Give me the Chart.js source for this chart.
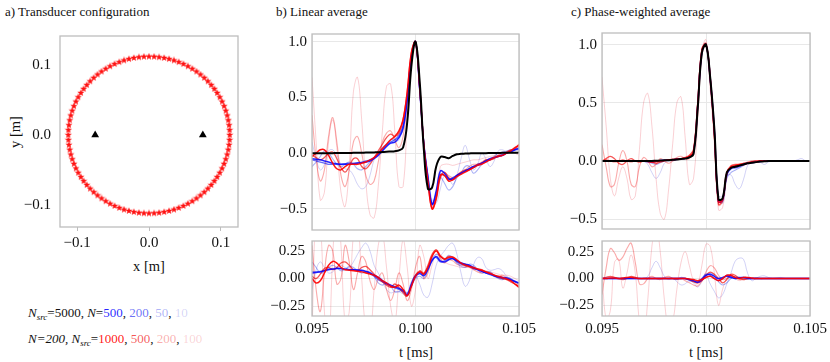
<!DOCTYPE html>
<html>
<head>
<meta charset="utf-8">
<title>Transducer configuration, linear and phase-weighted averages</title>
<script src="https://cdn.jsdelivr.net/npm/chart.js@4.4.1/dist/chart.umd.min.js"></script>
<style>
  html, body { margin: 0; padding: 0; overflow: hidden; background: #fff; }
  body { position: relative; width: 830px; height: 362px; font-family: 'Liberation Serif', 'DejaVu Serif', serif; color: #111; }
  canvas { position: absolute; }
  .lbl { position: absolute; white-space: nowrap; line-height: 1; }
  .title { font-size: 13px; transform: translateY(-50%); }
  .axis { font-size: 14.5px; transform: translate(-50%, -50%); }
  .legend { font-size: 13px; left: 28px; transform: translateY(-50%); }
  .legend sub { font-size: 9px; vertical-align: -3px; line-height: 0; }
</style>
</head>
<body>
<div class="lbl title" style="left:5px;top:11px">a) Transducer configuration</div>
<div class="lbl title" style="left:276px;top:11px">b) Linear average</div>
<div class="lbl title" style="left:571px;top:11px">c) Phase-weighted average</div>
<div class="lbl axis" style="left:15px;top:132px;transform:translate(-50%,-50%) rotate(-90deg)">y [m]</div>
<div class="lbl axis" style="left:149px;top:266px">x [m]</div>
<div class="lbl axis" style="left:416px;top:352px">t [ms]</div>
<div class="lbl axis" style="left:706px;top:352px">t [ms]</div>
<div class="lbl legend" id="legBlue" style="top:312px"></div>
<div class="lbl legend" id="legRed" style="top:338px"></div>

<canvas id="cfg" width="252" height="259" style="left:0;top:18px"></canvas>
<canvas id="linTop" width="300" height="224" style="left:255px;top:20px"></canvas>
<canvas id="linBot" width="300" height="119" style="left:255px;top:225px"></canvas>
<canvas id="pwTop" width="287" height="224" style="left:545px;top:19px"></canvas>
<canvas id="pwBot" width="287" height="120" style="left:545px;top:224px"></canvas>

<script>
// time axis (ms)
const timeMs = [
  0.0950, 0.0952, 0.0954, 0.0956, 0.0958, 0.0960, 0.0962, 0.0964, 0.0966, 0.0968,
  0.0970, 0.0972, 0.0974, 0.0976, 0.0978, 0.0980, 0.0982, 0.0984, 0.0986, 0.0988,
  0.0990, 0.0992, 0.0994, 0.0996, 0.0998, 0.1000, 0.1002, 0.1004, 0.1006, 0.1008,
  0.1010, 0.1012, 0.1014, 0.1016, 0.1018, 0.1020, 0.1022, 0.1024, 0.1026, 0.1028,
  0.1030, 0.1032, 0.1034, 0.1036, 0.1038, 0.1040, 0.1042, 0.1044, 0.1046, 0.1048,
  0.1050];

// panel a: source ring and the two receivers (m)
const sourceX = [
  0.1125, 0.1123, 0.1116, 0.1105, 0.1090, 0.1070, 0.1046, 0.1018, 0.0986, 0.0950,
  0.0910, 0.0867, 0.0820, 0.0770, 0.0717, 0.0661, 0.0603, 0.0542, 0.0479, 0.0414,
  0.0348, 0.0280, 0.0211, 0.0141, 0.0071, 0.0000, -0.0071, -0.0141, -0.0211, -0.0280,
  -0.0348, -0.0414, -0.0479, -0.0542, -0.0603, -0.0661, -0.0717, -0.0770, -0.0820, -0.0867,
  -0.0910, -0.0950, -0.0986, -0.1018, -0.1046, -0.1070, -0.1090, -0.1105, -0.1116, -0.1123,
  -0.1125, -0.1123, -0.1116, -0.1105, -0.1090, -0.1070, -0.1046, -0.1018, -0.0986, -0.0950,
  -0.0910, -0.0867, -0.0820, -0.0770, -0.0717, -0.0661, -0.0603, -0.0542, -0.0479, -0.0414,
  -0.0348, -0.0280, -0.0211, -0.0141, -0.0071, 0.0000, 0.0071, 0.0141, 0.0211, 0.0280,
  0.0348, 0.0414, 0.0479, 0.0542, 0.0603, 0.0661, 0.0717, 0.0770, 0.0820, 0.0867,
  0.0910, 0.0950, 0.0986, 0.1018, 0.1046, 0.1070, 0.1090, 0.1105, 0.1116, 0.1123];
const sourceY = [
  0.0000, 0.0071, 0.0141, 0.0211, 0.0280, 0.0348, 0.0414, 0.0479, 0.0542, 0.0603,
  0.0661, 0.0717, 0.0770, 0.0820, 0.0867, 0.0910, 0.0950, 0.0986, 0.1018, 0.1046,
  0.1070, 0.1090, 0.1105, 0.1116, 0.1123, 0.1125, 0.1123, 0.1116, 0.1105, 0.1090,
  0.1070, 0.1046, 0.1018, 0.0986, 0.0950, 0.0910, 0.0867, 0.0820, 0.0770, 0.0717,
  0.0661, 0.0603, 0.0542, 0.0479, 0.0414, 0.0348, 0.0280, 0.0211, 0.0141, 0.0071,
  0.0000, -0.0071, -0.0141, -0.0211, -0.0280, -0.0348, -0.0414, -0.0479, -0.0542, -0.0603,
  -0.0661, -0.0717, -0.0770, -0.0820, -0.0867, -0.0910, -0.0950, -0.0986, -0.1018, -0.1046,
  -0.1070, -0.1090, -0.1105, -0.1116, -0.1123, -0.1125, -0.1123, -0.1116, -0.1105, -0.1090,
  -0.1070, -0.1046, -0.1018, -0.0986, -0.0950, -0.0910, -0.0867, -0.0820, -0.0770, -0.0717,
  -0.0661, -0.0603, -0.0542, -0.0479, -0.0414, -0.0348, -0.0280, -0.0211, -0.0141, -0.0071];
const receiverX = [-0.075, 0.075];
const receiverY = [0, 0];

// tick labels
const posTicks = [-0.1, 0.0, 0.1];
const traceTicks = [-0.5, 0.0, 0.5, 1.0];
const diffTicks = [-0.25, 0.0, 0.25];
const timeTicks = [0.095, 0.100, 0.105];

// legend categories
const nLabels = ['500', '200', '50', '10'];
const nsrcLabels = ['1000', '500', '200', '100'];

// b) linear average, top
const linTopRef = [
  0.000, 0.000, 0.000, 0.000, 0.000, 0.000, 0.001, 0.001, 0.002, 0.002,
  0.003, 0.003, 0.004, 0.005, 0.006, 0.007, 0.008, 0.010, 0.012, 0.015,
  0.018, 0.025, 0.050, 0.280, 0.780, 1.000, 0.650, 0.040, -0.320, -0.310,
  -0.120, -0.035, -0.035, -0.045, -0.025, -0.010, -0.006, -0.004, -0.002, 0.000,
  0.000, 0.000, 0.000, 0.001, 0.002, 0.002, 0.003, 0.003, 0.004, 0.004,
  0.005];
const linTopN500 = [
  -0.05, -0.055, -0.06, -0.07, -0.08, -0.09, -0.095, -0.10, -0.10, -0.10,
  -0.095, -0.09, -0.085, -0.08, -0.07, -0.05, -0.02, 0.02, 0.06, 0.09,
  0.10, 0.14, 0.22, 0.48, 0.86, 1.00, 0.58, 0.08, -0.22, -0.46,
  -0.34, -0.16, -0.18, -0.23, -0.23, -0.20, -0.18, -0.16, -0.14, -0.12,
  -0.11, -0.09, -0.07, -0.05, -0.04, -0.03, -0.02, 0.00, 0.01, 0.03,
  0.04];
const linTopN200 = [
  -0.06, -0.07, -0.08, -0.09, -0.10, -0.10, -0.10, -0.10, -0.095, -0.09,
  -0.09, -0.085, -0.08, -0.07, -0.06, -0.04, -0.01, 0.03, 0.07, 0.10,
  0.12, 0.16, 0.25, 0.50, 0.87, 1.00, 0.58, 0.10, -0.20, -0.46,
  -0.36, -0.19, -0.20, -0.24, -0.22, -0.20, -0.18, -0.16, -0.14, -0.13,
  -0.10, -0.09, -0.07, -0.06, -0.04, -0.03, -0.01, 0.00, 0.02, 0.03,
  0.05];
const linTopN50 = [
  -0.12, -0.08, -0.03, 0.02, 0.00, -0.05, -0.10, -0.12, -0.10, -0.08,
  -0.10, -0.14, -0.15, -0.12, -0.08, -0.04, 0.00, 0.05, 0.08, 0.12,
  0.12, 0.14, 0.24, 0.50, 0.87, 1.00, 0.57, 0.10, -0.22, -0.45,
  -0.38, -0.22, -0.27, -0.33, -0.30, -0.22, -0.18, -0.12, -0.12, -0.18,
  -0.15, -0.10, -0.08, -0.06, -0.03, 0.00, 0.01, 0.02, 0.03, 0.03,
  0.03];
const linTopN10 = [
  0.10, -0.05, -0.15, -0.10, 0.02, 0.03, -0.02, -0.10, -0.14, -0.15,
  -0.20, -0.28, -0.32, -0.30, -0.20, -0.06, 0.00, 0.05, 0.08, 0.10,
  0.10, 0.12, 0.24, 0.50, 0.87, 1.00, 0.55, 0.08, -0.20, -0.42,
  -0.45, -0.32, -0.20, -0.22, -0.28, -0.20, -0.05, 0.07, -0.05, -0.15,
  -0.10, 0.00, -0.05, -0.12, -0.07, 0.02, 0.03, 0.01, 0.02, 0.02,
  0.03];
const linTopS1000 = [
  -0.03, 0.00, 0.03, 0.03, -0.02, -0.09, -0.14, -0.15, -0.12, -0.10,
  -0.10, -0.10, -0.09, -0.08, -0.06, -0.04, 0.00, 0.04, 0.08, 0.12,
  0.15, 0.20, 0.30, 0.55, 0.90, 1.00, 0.60, 0.08, -0.25, -0.50,
  -0.40, -0.20, -0.20, -0.25, -0.24, -0.21, -0.19, -0.17, -0.15, -0.13,
  -0.11, -0.10, -0.08, -0.06, -0.04, -0.03, -0.02, 0.00, 0.02, 0.05,
  0.07];
const linTopS500 = [
  -0.02, -0.04, -0.06, -0.04, 0.00, 0.01, -0.05, -0.13, -0.17, -0.12,
  -0.05, -0.05, -0.12, -0.14, -0.10, -0.04, 0.02, 0.08, 0.14, 0.17,
  0.15, 0.18, 0.30, 0.55, 0.90, 1.00, 0.60, 0.08, -0.25, -0.50,
  -0.42, -0.22, -0.17, -0.22, -0.24, -0.20, -0.17, -0.15, -0.15, -0.12,
  -0.10, -0.09, -0.06, -0.06, -0.05, -0.02, -0.02, 0.01, 0.03, 0.04,
  0.08];
const linTopS200 = [
  0.34, -0.05, -0.25, -0.15, 0.15, 0.32, 0.10, -0.20, -0.30, -0.15,
  0.10, 0.15, 0.00, -0.20, -0.28, -0.25, -0.08, 0.10, 0.18, 0.20,
  0.12, 0.05, 0.15, 0.45, 0.85, 1.00, 0.58, 0.07, -0.25, -0.48,
  -0.40, -0.22, -0.18, -0.20, -0.22, -0.20, -0.18, -0.15, -0.12, -0.10,
  -0.10, -0.08, -0.06, -0.05, -0.03, -0.02, -0.01, 0.00, 0.02, 0.04,
  0.06];
const linTopS100 = [
  0.68, 0.10, -0.42, -0.35, 0.10, 0.30, 0.05, -0.35, -0.48, -0.10,
  0.55, 0.68, 0.30, -0.25, -0.55, -0.58, -0.30, 0.20, 0.60, 0.62,
  0.20, -0.30, -0.30, 0.30, 0.85, 1.00, 0.55, 0.05, -0.25, -0.45,
  -0.35, -0.12, -0.10, -0.10, -0.11, -0.10, -0.09, -0.08, -0.07, -0.06,
  -0.06, -0.05, -0.04, -0.03, -0.02, 0.00, 0.00, 0.01, 0.02, 0.00,
  -0.02];

// b) linear average, bottom
const linBotN500 = [
  0.05, 0.055, 0.06, 0.07, 0.08, 0.085, 0.09, 0.09, 0.085, 0.08,
  0.08, 0.075, 0.075, 0.065, 0.05, 0.03, 0.01, -0.02, -0.045, -0.06,
  -0.075, -0.09, -0.11, -0.15, -0.06, 0.02, 0.046, 0.025, 0.08, 0.16,
  0.20, 0.16, 0.15, 0.17, 0.18, 0.16, 0.14, 0.13, 0.12, 0.10,
  0.08, 0.065, 0.05, 0.04, 0.025, 0.015, 0.01, 0.005, -0.01, -0.025,
  -0.04];
const linBotN200 = [
  0.06, 0.06, 0.065, 0.075, 0.085, 0.09, 0.095, 0.09, 0.085, 0.08,
  0.08, 0.08, 0.07, 0.06, 0.045, 0.02, -0.01, -0.03, -0.05, -0.07,
  -0.085, -0.10, -0.12, -0.14, -0.04, 0.03, 0.055, 0.04, 0.10, 0.17,
  0.19, 0.15, 0.16, 0.18, 0.18, 0.15, 0.13, 0.12, 0.11, 0.09,
  0.08, 0.07, 0.05, 0.035, 0.02, 0.01, 0.00, -0.005, -0.015, -0.03,
  -0.04];
const linBotN50 = [
  0.15, 0.10, 0.05, 0.06, 0.10, 0.12, 0.10, 0.07, 0.08, 0.11,
  0.10, 0.07, 0.05, 0.06, 0.06, 0.02, -0.04, -0.06, -0.04, -0.07,
  -0.12, -0.12, -0.10, -0.13, -0.07, 0.00, 0.02, 0.00, 0.08, 0.18,
  0.22, 0.20, 0.17, 0.21, 0.19, 0.14, 0.11, 0.10, 0.13, 0.12,
  0.08, 0.05, 0.06, 0.06, 0.03, 0.00, -0.01, 0.01, 0.00, -0.03,
  -0.05];
const linBotN10 = [
  -0.10, 0.08, 0.15, 0.10, 0.05, 0.06, 0.10, 0.12, 0.10, 0.10,
  0.15, 0.22, 0.28, 0.32, 0.25, 0.12, 0.05, -0.02, -0.10, -0.13,
  -0.12, -0.12, -0.14, -0.16, -0.08, 0.02, -0.05, -0.15, -0.17, -0.05,
  0.12, 0.20, 0.25, 0.30, 0.32, 0.22, 0.05, -0.07, -0.02, 0.12,
  0.19, 0.18, 0.10, 0.075, 0.08, 0.09, 0.07, 0.02, 0.00, -0.03,
  -0.04];
const linBotS1000 = [
  0.00, -0.04, -0.02, 0.05, 0.12, 0.155, 0.14, 0.10, 0.08, 0.075,
  0.07, 0.065, 0.06, 0.05, 0.04, 0.03, 0.01, -0.02, -0.04, -0.07,
  -0.08, -0.06, -0.10, -0.155, -0.07, 0.02, 0.06, 0.04, 0.10, 0.20,
  0.25, 0.20, 0.175, 0.19, 0.195, 0.17, 0.14, 0.12, 0.11, 0.10,
  0.085, 0.075, 0.06, 0.045, 0.03, 0.02, 0.01, -0.005, -0.02, -0.05,
  -0.08];
const linBotS500 = [
  0.02, 0.00, 0.04, 0.09, 0.10, 0.08, 0.10, 0.14, 0.15, 0.12,
  0.08, 0.07, 0.10, 0.11, 0.08, 0.04, 0.00, -0.03, -0.06, -0.08,
  -0.05, -0.08, -0.13, -0.16, -0.06, 0.03, 0.07, 0.05, 0.12, 0.22,
  0.26, 0.21, 0.18, 0.20, 0.19, 0.16, 0.14, 0.13, 0.11, 0.09,
  0.09, 0.08, 0.06, 0.05, 0.03, 0.01, 0.00, -0.01, -0.03, -0.05,
  -0.07];
const linBotS200 = [
  0.30, -0.10, -0.30, 0.05, 0.30, 0.25, -0.05, 0.00, 0.30, 0.15,
  -0.10, 0.05, 0.20, 0.15, -0.02, -0.10, 0.00, 0.05, -0.10, -0.20,
  -0.10, 0.05, -0.05, -0.20, -0.10, 0.10, 0.20, 0.00, 0.05, 0.20,
  0.26, 0.18, 0.14, 0.17, 0.16, 0.13, 0.12, 0.11, 0.10, 0.08,
  0.06, 0.05, 0.06, 0.05, 0.03, 0.02, 0.03, 0.01, -0.01, -0.03,
  -0.06];
const linBotS100 = [
  -0.50, 0.60, 0.50, -0.30, -0.60, 0.20, 0.70, 0.30, -0.40, -0.30,
  0.40, 0.50, 0.00, -0.45, -0.50, -0.10, 0.30, 0.40, 0.10, -0.25,
  -0.40, 0.00, 0.35, 0.10, -0.25, -0.10, 0.30, 0.20, 0.00, 0.12,
  0.22, 0.18, 0.15, 0.13, 0.12, 0.11, 0.10, 0.10, 0.10, 0.09,
  0.08, 0.07, 0.07, 0.06, 0.05, 0.04, 0.03, 0.03, 0.02, 0.00,
  -0.02];

// c) phase-weighted average, top
const pwTopRef = [
  0, 0, 0, 0, 0, 0, 0, 0, 0, 0,
  0, 0, 0, 0.002, 0.003, 0.005, 0.007, 0.010, 0.013, 0.017,
  0.020, 0.030, 0.060, 0.450, 0.930, 1.000, 0.720, 0.280, -0.330, -0.320,
  -0.100, -0.060, -0.050, -0.040, -0.030, -0.020, -0.015, -0.010, -0.005, -0.003,
  0, 0, 0, 0, 0, 0, 0, 0, 0, 0,
  0];
const pwTopN500 = [
  0, 0, 0, 0, 0, 0, 0, 0, 0, 0,
  0, 0, -0.005, 0, 0.003, 0.005, 0.008, 0.010, 0.014, 0.018,
  0.022, 0.035, 0.070, 0.470, 0.940, 1.000, 0.720, 0.270, -0.350, -0.330,
  -0.110, -0.060, -0.050, -0.040, -0.030, -0.020, -0.015, -0.010, -0.005, 0,
  0, 0, 0, 0, 0, 0, 0, 0, 0, 0,
  0];
const pwTopN200 = [
  0, 0, 0, 0, 0, 0, 0, 0, 0, 0,
  0, -0.005, -0.010, -0.005, 0.003, 0.005, 0.008, 0.010, 0.014, 0.018,
  0.022, 0.035, 0.070, 0.470, 0.940, 1.000, 0.710, 0.260, -0.350, -0.340,
  -0.120, -0.070, -0.060, -0.050, -0.030, -0.020, -0.010, -0.010, 0, 0,
  0, 0, 0, 0, 0, 0, 0, 0, 0, 0,
  0];
const pwTopN50 = [
  0, 0, 0, 0, 0, 0, 0, 0, 0, 0,
  -0.005, -0.010, -0.020, -0.030, -0.015, 0.000, 0.005, 0.010, 0.015, 0.020,
  0.025, 0.035, 0.070, 0.460, 0.930, 1.000, 0.700, 0.250, -0.330, -0.360,
  -0.150, -0.100, -0.080, -0.060, -0.040, -0.020, -0.010, -0.010, -0.005, 0,
  0, 0, 0, 0, 0, 0, 0, 0, 0, 0,
  0];
const pwTopN10 = [
  0, 0, 0, 0, 0, 0, 0, 0, 0, 0,
  0.00, -0.03, -0.10, -0.15, -0.10, -0.02, 0.00, 0.00, 0.01, 0.02,
  0.02, 0.03, 0.08, 0.42, 0.90, 1.00, 0.68, 0.22, -0.30, -0.30,
  -0.13, -0.12, -0.20, -0.24, -0.16, -0.04, -0.01, 0.00, -0.01, -0.03,
  -0.01, 0.00, 0.00, 0.00, 0.00, 0.00, 0.00, 0.01, 0.02, 0.00,
  0.00];
const pwTopS1000 = [
  0.000, 0.005, 0.000, -0.005, 0.000, 0.005, 0.000, -0.005, 0.000, 0.000,
  0.000, -0.005, -0.010, -0.005, 0.000, 0.005, 0.010, 0.010, 0.015, 0.020,
  0.025, 0.040, 0.080, 0.480, 0.950, 1.000, 0.720, 0.250, -0.350, -0.330,
  -0.100, -0.050, -0.040, -0.030, -0.030, -0.020, -0.010, -0.010, 0, 0,
  0, 0, 0, 0, 0, 0, 0, 0, 0, 0,
  0];
const pwTopS500 = [
  0.00, 0.02, 0.04, 0.02, -0.02, -0.03, 0.00, 0.02, 0.00, -0.01,
  0.00, 0.00, -0.01, -0.02, -0.01, 0.00, 0.01, 0.015, 0.02, 0.02,
  0.03, 0.05, 0.10, 0.50, 0.96, 1.01, 0.72, 0.22, -0.37, -0.34,
  -0.10, -0.04, -0.03, -0.03, -0.02, -0.02, -0.01, 0, 0, 0,
  0, 0, 0, 0, 0, 0, 0, 0, 0, 0,
  0];
const pwTopS200 = [
  0.14, -0.05, -0.22, -0.20, -0.02, 0.09, 0.00, -0.20, -0.22, -0.05,
  0.03, 0.00, -0.05, -0.03, 0.02, 0.00, -0.02, 0.00, 0.03, 0.04,
  0.02, 0.02, 0.08, 0.40, 0.90, 1.00, 0.68, 0.22, -0.38, -0.35,
  -0.12, -0.05, -0.04, -0.03, -0.02, -0.01, 0, 0, 0, 0,
  0, 0, 0, 0, 0, 0, 0, 0, 0, 0,
  0];
const pwTopS100 = [
  0.72, 0.30, -0.15, -0.30, -0.15, -0.05, -0.15, -0.33, -0.30, 0.10,
  0.50, 0.58, 0.30, -0.15, -0.45, -0.50, -0.25, 0.15, 0.50, 0.55,
  0.20, -0.20, -0.15, 0.35, 0.95, 1.04, 0.62, 0.15, -0.42, -0.40,
  -0.15, -0.05, -0.04, -0.03, -0.02, -0.01, 0, 0, 0, 0,
  0, 0, 0, 0, 0, 0, 0, 0, 0, 0,
  0];

// c) phase-weighted average, bottom
const pwBotN500 = [
  0, 0, 0, 0, 0, 0, 0, 0, 0, 0,
  0, 0, 0, 0, 0, 0, 0, 0, 0, 0,
  0.00, -0.01, -0.02, -0.035, -0.01, 0.03, 0.04, 0.02, 0.00, 0.01,
  0.02, 0.01, 0.00, 0.005, 0.01, 0.005, 0, 0, 0, 0,
  0, 0, 0, 0, 0, 0, 0, 0, 0, 0,
  0];
const pwBotN200 = [
  0, 0, 0, 0, 0, 0, 0, 0, 0, 0,
  0, 0, 0, 0, 0, 0, 0, 0, 0, 0,
  0.00, -0.01, -0.025, -0.03, 0.00, 0.04, 0.03, 0.00, -0.02, 0.00,
  0.03, 0.02, 0.00, 0.01, 0.01, 0.00, 0, 0, 0, 0,
  0, 0, 0, 0, 0, 0, 0, 0, 0, 0,
  0];
const pwBotN50 = [
  0, 0, 0, 0, 0, 0, 0, 0, 0, 0,
  0, 0, 0, 0, 0, 0, 0, 0, -0.01, 0.01,
  0.00, -0.02, -0.03, -0.04, -0.02, 0.02, 0.05, 0.03, -0.03, -0.06,
  -0.04, 0.00, 0.02, 0.01, 0.00, -0.01, 0.00, 0.01, 0, 0,
  0, 0, 0, 0, 0, 0, 0, 0, 0, 0,
  0];
const pwBotN10 = [
  0, 0, 0, 0, 0, 0, 0, 0, 0, 0,
  0.00, 0.02, 0.10, 0.16, 0.10, 0.02, -0.01, 0.00, -0.03, -0.06,
  -0.05, -0.02, -0.04, -0.08, -0.03, 0.03, -0.05, -0.12, -0.18, -0.15,
  -0.05, 0.05, 0.16, 0.19, 0.18, 0.05, -0.02, 0.00, 0.02, 0.025,
  0.01, 0.00, 0.005, 0.01, 0, 0, 0, 0, 0, 0,
  0];
const pwBotS1000 = [
  0.000, 0.000, 0.005, 0.005, 0.000, 0.005, 0.010, 0.010, 0.005, 0.000,
  0, 0, 0, 0, 0, 0, 0, 0, 0, 0,
  0.000, -0.005, -0.010, -0.020, -0.010, 0.010, 0.020, 0.000, -0.020, 0.000,
  0.030, 0.030, 0.010, 0.000, 0.010, 0.010, 0.005, 0, 0, 0,
  0, 0, 0, 0, 0, 0, 0, 0, 0, 0,
  0];
const pwBotS500 = [
  0.00, 0.01, 0.02, 0.01, 0.00, -0.01, 0.00, 0.02, 0.01, 0.00,
  0, 0, 0, 0, 0, 0, 0, 0, 0, 0,
  0.00, -0.01, -0.03, -0.04, -0.02, 0.03, 0.06, 0.04, 0.00, -0.04,
  -0.01, 0.04, 0.03, 0.00, -0.01, 0.00, 0, 0, 0, 0,
  0, 0, 0, 0, 0, 0, 0, 0, 0, 0,
  0];
const pwBotS200 = [
  -0.15, 0.10, 0.28, 0.24, 0.17, 0.20, 0.28, 0.33, 0.15, -0.05,
  -0.05, 0.00, 0.02, 0.00, -0.01, 0.01, 0.02, 0.00, -0.01, 0.00,
  -0.02, -0.04, -0.06, -0.07, -0.02, 0.06, 0.12, 0.10, 0.03, -0.01,
  0.00, 0.02, 0.01, -0.01, -0.01, 0.00, 0, 0, 0, 0,
  0, 0, 0, 0, 0, 0, 0, 0, 0, 0,
  0];
const pwBotS100 = [
  0.05, -0.38, -0.30, 0.15, 0.18, -0.09, 0.05, 0.22, 0.05, -0.40,
  -0.55, -0.20, 0.30, 0.50, 0.25, -0.20, -0.45, -0.40, -0.10, 0.15,
  0.25, 0.12, -0.02, -0.05, 0.12, 0.32, 0.30, 0.05, -0.25, -0.10,
  0.00, 0.03, 0.00, -0.02, 0.00, 0.01, 0, 0, 0, 0,
  0, 0, 0, 0, 0, 0, 0, 0, 0, 0,
  0];

// styles
const blueCols = ['rgba(0,0,255,0.85)', 'rgba(10,20,240,0.62)', 'rgba(20,40,230,0.36)', 'rgba(30,30,210,0.2)'];
const redCols = ['rgba(255,0,0,0.92)', 'rgba(240,0,0,0.66)', 'rgba(240,20,20,0.36)', 'rgba(230,20,40,0.2)'];
const lineWidths = [1.5, 1.3, 1.1, 1.0];
const gridColor = '#e8e8e8';
const spineColor = '#bdbdbd';
const tickFont = { family: "'Liberation Serif', 'DejaVu Serif', serif", size: 15 };

document.getElementById('legBlue').innerHTML = '<i>N</i><sub><i>src</i></sub>=5000, <i>N</i>=' +
  nLabels.map((s, k) => `<span style="color:${blueCols[k]}">${s}</span>`).join(', ');
document.getElementById('legRed').innerHTML = '<i>N=200, N</i><sub><i>src</i></sub>=' +
  nsrcLabels.map((s, k) => `<span style="color:${redCols[k]}">${s}</span>`).join(', ');

function fmt(v, d) { return (v < 0 ? '\u2212' : '') + Math.abs(v).toFixed(d); }
function fixedTicks(list) { return scale => { scale.ticks = list.map(v => ({ value: v })); }; }

// grey box round every plot area
const frame = {
  id: 'frame',
  afterDatasetsDraw(chart) {
    const { ctx, chartArea: a } = chart;
    ctx.save();
    ctx.strokeStyle = spineColor;
    ctx.lineWidth = 1.3;
    ctx.strokeRect(a.left, a.top, a.right - a.left, a.bottom - a.top);
    ctx.restore();
  }
};

function starImage(size, color) {
  const c = document.createElement('canvas');
  c.width = size; c.height = size;
  const g = c.getContext('2d');
  const r = size / 2;
  g.beginPath();
  for (let k = 0; k < 10; k++) {
    const rad = k % 2 === 0 ? r - 0.3 : r * 0.4;
    const ang = -Math.PI / 2 + k * Math.PI / 5;
    g.lineTo(r + rad * Math.cos(ang), r + rad * Math.sin(ang));
  }
  g.closePath();
  g.fillStyle = color;
  g.fill();
  return c;
}

// a) transducer configuration
new Chart(document.getElementById('cfg'), {
  type: 'scatter',
  data: {
    datasets: [
      { data: receiverX.map((x, i) => ({ x, y: receiverY[i] })), pointStyle: 'triangle', pointRadius: 4.5,
        backgroundColor: '#000', borderColor: '#000', borderWidth: 0 },
      { data: sourceX.map((x, i) => ({ x, y: sourceY[i] })), pointStyle: starImage(8, '#ff1010'), pointRadius: 4 }
    ]
  },
  options: {
    responsive: false,
    animation: false,
    events: [],
    layout: { padding: { top: 12, right: 14, bottom: 0, left: 0 } },
    plugins: { legend: { display: false }, tooltip: { enabled: false } },
    scales: {
      x: {
        type: 'linear', min: -0.124, max: 0.124,
        afterBuildTicks: fixedTicks(posTicks),
        afterFit: s => { s.height = 50; },
        grid: { color: 'rgba(0,0,0,0)', tickColor: spineColor, tickLength: 4 },
        border: { display: false },
        ticks: { font: tickFont, color: '#111', padding: 3, maxRotation: 0, callback: v => fmt(v, 1) }
      },
      y: {
        type: 'linear', min: -0.132, max: 0.142,
        afterBuildTicks: fixedTicks(posTicks),
        afterFit: s => { s.width = 60; },
        grid: { color: 'rgba(0,0,0,0)', drawTicks: false },
        border: { display: false },
        ticks: { font: tickFont, color: '#111', padding: 9, callback: v => fmt(v, 1) }
      }
    }
  },
  plugins: [frame]
});

function traceSets(ref, blues, reds) {
  const out = [];
  if (ref) out.push({ values: ref, color: '#000', width: 2 });
  for (let k = 0; k < 4; k++) {
    out.push({ values: reds[k], color: redCols[k], width: lineWidths[k] });
    out.push({ values: blues[k], color: blueCols[k], width: lineWidths[k] });
  }
  return out;
}

function drawTraces(id, sets, o) {
  new Chart(document.getElementById(id), {
    type: 'line',
    data: {
      datasets: sets.map(s => ({
        data: s.values.map((v, i) => ({ x: timeMs[i], y: v })),
        borderColor: s.color,
        borderWidth: s.width,
        pointRadius: 0,
        tension: 0.4,
        fill: false
      }))
    },
    options: {
      responsive: false,
      animation: false,
      events: [],
      layout: { padding: o.padding },
      plugins: { legend: { display: false }, tooltip: { enabled: false } },
      scales: {
        x: {
          type: 'linear', min: 0.095, max: 0.105,
          afterBuildTicks: fixedTicks(timeTicks),
          afterFit: s => { s.height = o.showTime ? 28 : 0; },
          grid: { color: gridColor, drawTicks: false },
          border: { display: false },
          ticks: { display: o.showTime, font: tickFont, color: '#111', padding: 4, maxRotation: 0,
                   autoSkip: false, callback: v => fmt(v, 3) }
        },
        y: {
          type: 'linear', min: o.yMin, max: o.yMax,
          afterBuildTicks: fixedTicks(o.yTicks),
          afterFit: s => { s.width = 57; },
          grid: { color: gridColor, drawTicks: false },
          border: { display: false },
          ticks: { font: tickFont, color: '#111', padding: o.yPad, callback: v => fmt(v, o.digits) }
        }
      }
    },
    plugins: [frame]
  });
}

drawTraces('linTop',
  traceSets(linTopRef, [linTopN500, linTopN200, linTopN50, linTopN10], [linTopS1000, linTopS500, linTopS200, linTopS100]),
  { padding: { top: 12, right: 36, bottom: 12, left: 0 }, yMin: -0.69, yMax: 1.07, yTicks: traceTicks, digits: 1, yPad: 5, showTime: false });
drawTraces('linBot',
  traceSets(null, [linBotN500, linBotN200, linBotN50, linBotN10], [linBotS1000, linBotS500, linBotS200, linBotS100]),
  { padding: { top: 12, right: 36, bottom: 0, left: 0 }, yMin: -0.34, yMax: 0.34, yTicks: diffTicks, digits: 2, yPad: 7, showTime: true });
drawTraces('pwTop',
  traceSets(pwTopRef, [pwTopN500, pwTopN200, pwTopN50, pwTopN10], [pwTopS1000, pwTopS500, pwTopS200, pwTopS100]),
  { padding: { top: 12, right: 22, bottom: 12, left: 0 }, yMin: -0.585, yMax: 1.10, yTicks: traceTicks, digits: 1, yPad: 5, showTime: false });
drawTraces('pwBot',
  traceSets(null, [pwBotN500, pwBotN200, pwBotN50, pwBotN10], [pwBotS1000, pwBotS500, pwBotS200, pwBotS100]),
  { padding: { top: 12, right: 22, bottom: 0, left: 0 }, yMin: -0.35, yMax: 0.35, yTicks: diffTicks, digits: 2, yPad: 8, showTime: true });
</script>
</body>
</html>
